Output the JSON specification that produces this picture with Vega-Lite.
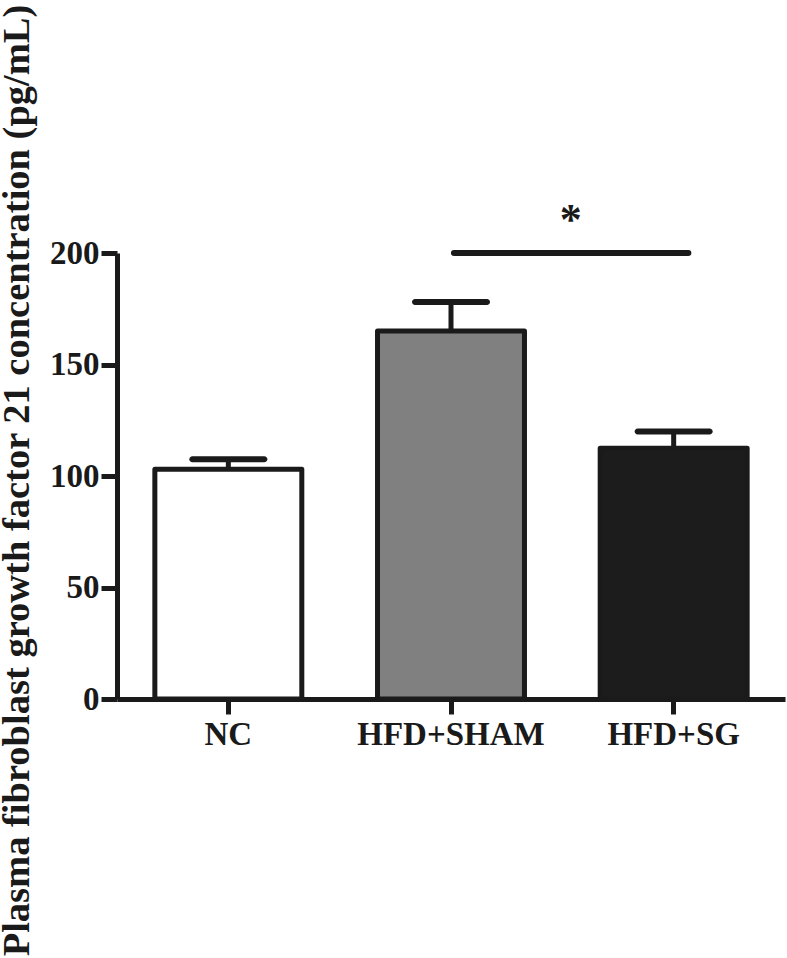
{
  "$schema": "https://vega.github.io/schema/vega-lite/v6.json",
  "width": 668,
  "height": 446,
  "autosize": {"type": "none"},
  "padding": {"left": 117, "top": 253, "right": 2, "bottom": 259},
  "background": "white",
  "config": {
    "view": {"stroke": null},
    "font": "Liberation Serif"
  },
  "datasets": {
    "groups": [
      {"group": "NC", "mean": 103, "upper": 107.5},
      {"group": "HFD+SHAM", "mean": 165, "upper": 178},
      {"group": "HFD+SG", "mean": 112.5, "upper": 120}
    ],
    "sig": [
      {"from": "HFD+SHAM", "to": "HFD+SG", "y": 200, "label": "*", "label_y": 208.5}
    ]
  },
  "layer": [
    {
      "data": {"name": "groups"},
      "mark": {"type": "bar", "stroke": "#1a1a1a", "strokeWidth": 5, "strokeJoin": "round"},
      "encoding": {
        "x": {
          "field": "group", "type": "nominal",
          "scale": {"domain": ["NC", "HFD+SHAM", "HFD+SG"], "paddingInner": 0.34, "paddingOuter": 0.17},
          "axis": {
            "title": null, "labelAngle": 0, "labelLimit": 0,
            "labelFont": "Liberation Serif", "labelFontWeight": "bold", "labelFontSize": 33, "labelColor": "#1a1a1a",
            "labelPadding": 4,
            "domainColor": "#1a1a1a", "domainWidth": 5,
            "tickColor": "#1a1a1a", "tickWidth": 5, "tickSize": 15
          }
        },
        "y": {
          "field": "mean", "type": "quantitative",
          "scale": {"domain": [0, 200], "nice": false},
          "axis": {
            "values": [0, 50, 100, 150, 200],
            "grid": false,
            "title": "Plasma fibroblast growth factor 21 concentration (pg/mL)",
            "titleFont": "Liberation Serif", "titleFontWeight": "bold", "titleFontSize": 38.5, "titleColor": "#1a1a1a",
            "titleAngle": -90, "titleAlign": "center", "titleBaseline": "alphabetic",
            "titleX": -89, "titleY": 227, "titleLimit": 0,
            "labelFont": "Liberation Serif", "labelFontWeight": "bold", "labelFontSize": 33, "labelColor": "#1a1a1a",
            "labelPadding": 2,
            "domainColor": "#1a1a1a", "domainWidth": 5,
            "tickColor": "#1a1a1a", "tickWidth": 5, "tickSize": 16
          }
        },
        "fill": {
          "field": "group", "type": "nominal",
          "scale": {"domain": ["NC", "HFD+SHAM", "HFD+SG"], "range": ["#ffffff", "#808080", "#1c1c1c"]},
          "legend": null
        }
      }
    },
    {
      "data": {"name": "groups"},
      "mark": {"type": "rule", "stroke": "#1a1a1a", "strokeWidth": 5},
      "encoding": {
        "x": {"field": "group", "type": "nominal"},
        "y": {"field": "mean", "type": "quantitative"},
        "y2": {"field": "upper"}
      }
    },
    {
      "data": {"name": "groups"},
      "mark": {"type": "tick", "color": "#1a1a1a", "size": 78, "thickness": 6, "cornerRadius": 3, "opacity": 1},
      "encoding": {
        "x": {"field": "group", "type": "nominal"},
        "y": {"field": "upper", "type": "quantitative"}
      }
    },
    {
      "data": {"name": "sig"},
      "mark": {"type": "rule", "stroke": "#1a1a1a", "strokeWidth": 6, "strokeCap": "round"},
      "encoding": {
        "x": {"field": "from", "type": "nominal", "bandPosition": 0.52},
        "x2": {"field": "to", "bandPosition": 0.6},
        "y": {"field": "y", "type": "quantitative"}
      }
    },
    {
      "data": {"name": "sig"},
      "mark": {"type": "text", "font": "Liberation Serif", "fontSize": 44, "fontWeight": "bold", "color": "#1a1a1a", "align": "center", "baseline": "alphabetic"},
      "encoding": {
        "x": {"field": "to", "type": "nominal", "bandPosition": -0.2},
        "y": {"field": "label_y", "type": "quantitative"},
        "text": {"field": "label"}
      }
    }
  ]
}
